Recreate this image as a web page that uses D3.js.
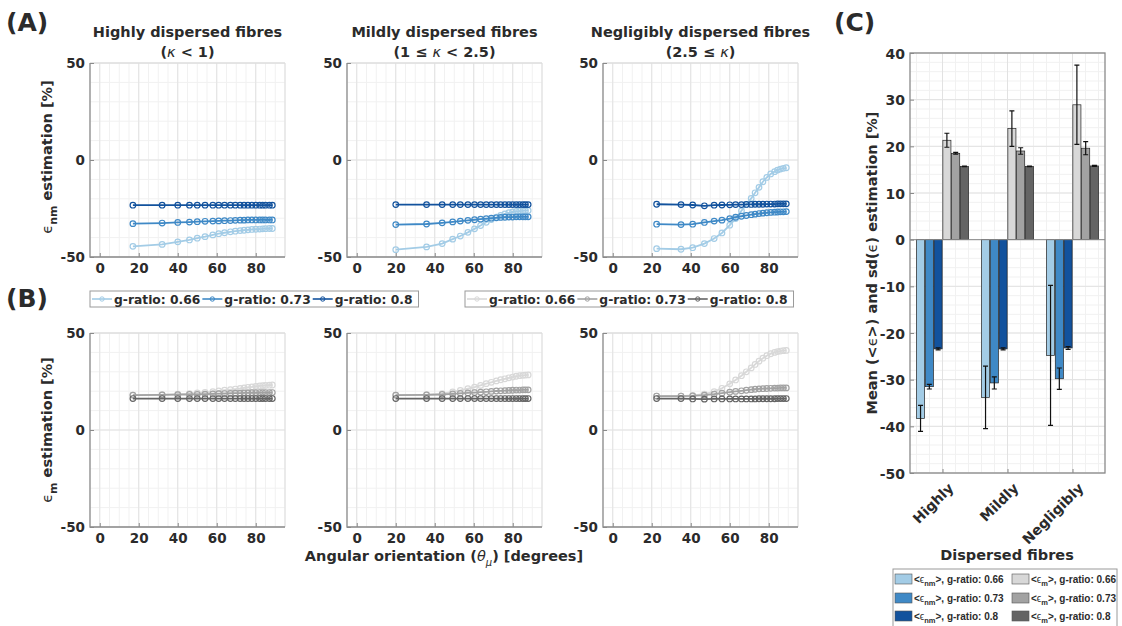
<!DOCTYPE html>
<html>
<head>
<meta charset="utf-8">
<script src="https://cdn.jsdelivr.net/npm/d3@7"></script>
<style>
  body { margin: 0; background: #fff; }
  svg text { font-family: "DejaVu Sans", sans-serif; font-weight: bold; fill: #2b2b2b; }
</style>
</head>
<body>
<svg id="fig" width="1122" height="626"></svg>
<script>
// ---------- data ----------
const gRatios = ['0.66', '0.73', '0.8'];
const groups = ['Highly', 'Mildly', 'Negligibly'];

// angular orientation of each simulated point, per dispersion class
const angHighly = [17, 32, 40, 46, 50, 54, 58, 61, 64, 67, 69.5, 72, 74, 76, 78, 80, 82, 83.5, 85, 87, 88.5];
const angMildly = [20, 35.8, 43.8, 49.2, 53.1, 57, 60.4, 63.5, 66.4, 69, 71.6, 73.8, 76, 78, 79.9, 81.8, 83.5, 85.2, 86.5, 87.9];
const angNegl = [22.5, 35, 41, 47, 52, 56, 60, 63, 66, 68.5, 71, 73, 75, 77, 79, 81, 83, 84.5, 86, 87.5, 89];

// (A) eps_nm estimation [%], one row per g-ratio (0.66, 0.73, 0.8)
const nmHighly = [
  [-44.5, -43.5, -42.2, -41.2, -40.3, -39.5, -38.6, -38, -37.5, -37, -36.7, -36.4, -36.2, -36, -35.8, -35.7, -35.6, -35.5, -35.4, -35.3, -35.3],
  [-32.8, -32.5, -32.2, -32, -31.8, -31.6, -31.5, -31.4, -31.3, -31.2, -31.1, -31, -31, -30.9, -30.9, -30.9, -30.9, -30.9, -30.9, -30.9, -30.9],
  [-23.3, -23.3, -23.3, -23.3, -23.3, -23.3, -23.3, -23.3, -23.3, -23.3, -23.3, -23.3, -23.3, -23.3, -23.3, -23.3, -23.3, -23.3, -23.3, -23.3, -23.3]
];
const nmMildly = [
  [-46.2, -44.8, -43.1, -40.8, -39.2, -37.3, -35.5, -33.8, -32.1, -30.7, -29.5, -28.6, -27.8, -27.2, -26.8, -26.5, -26.3, -26.2, -26.1, -26],
  [-33.3, -33, -32.4, -31.9, -31.5, -31.1, -30.8, -30.5, -30.2, -30, -29.8, -29.6, -29.5, -29.4, -29.4, -29.3, -29.3, -29.3, -29.3, -29.3],
  [-23, -23, -23, -23, -23, -23, -23, -23, -23, -23, -23, -23, -23, -23, -23, -23, -23, -23, -23, -23]
];
const nmNegl = [
  [-45.7, -46, -45.2, -43.1, -40.5, -37.6, -33.6, -30.2, -26.2, -22.9, -19.8, -16.9, -14.1, -11.2, -9, -7.2, -6, -5.2, -4.7, -4.3, -4],
  [-33.1, -33.3, -33.1, -32.2, -31.5, -31, -30.2, -29.5, -29, -28.6, -28.2, -27.9, -27.6, -27.4, -27.2, -27, -26.9, -26.8, -26.7, -26.7, -26.6],
  [-22.8, -23, -23.2, -23.6, -23.3, -23.2, -23.1, -23, -23, -22.9, -22.9, -22.8, -22.8, -22.8, -22.7, -22.7, -22.7, -22.6, -22.6, -22.6, -22.6]
];

// (B) eps_m estimation [%]
const mHighly = [
  [18, 18.2, 18.5, 18.8, 19.1, 19.4, 19.8, 20.1, 20.5, 20.8, 21.1, 21.4, 21.7, 22, 22.2, 22.5, 22.7, 22.8, 23, 23.1, 23.2],
  [18, 18.1, 18.2, 18.3, 18.4, 18.5, 18.6, 18.7, 18.8, 18.9, 19, 19, 19.1, 19.1, 19.2, 19.2, 19.3, 19.3, 19.3, 19.3, 19.3],
  [16.2, 16.2, 16.2, 16.2, 16.2, 16.2, 16.2, 16.2, 16.2, 16.2, 16.2, 16.2, 16.2, 16.2, 16.2, 16.2, 16.2, 16.2, 16.2, 16.2, 16.2]
];
const mMildly = [
  [18, 18.2, 18.8, 19.6, 20.4, 21.3, 22.1, 23, 23.9, 24.6, 25.3, 25.9, 26.4, 26.9, 27.3, 27.7, 28, 28.2, 28.3, 28.4],
  [18, 18.1, 18.3, 18.6, 18.9, 19.1, 19.3, 19.5, 19.7, 19.9, 20.1, 20.2, 20.3, 20.4, 20.5, 20.6, 20.6, 20.7, 20.7, 20.7],
  [16.2, 16.2, 16.2, 16.2, 16.2, 16.2, 16.2, 16.2, 16.2, 16.2, 16.2, 16.2, 16.2, 16.2, 16.2, 16.2, 16.2, 16.2, 16.2, 16.2]
];
const mNegl = [
  [17.5, 17.5, 17.8, 18.5, 19.8, 21.5, 23.8, 25.8, 28, 30, 32, 33.8, 35.5, 37, 38.3, 39.3, 40, 40.4, 40.7, 40.9, 41],
  [17.5, 17.5, 17.6, 18, 18.5, 19, 19.5, 19.9, 20.2, 20.5, 20.8, 21, 21.2, 21.3, 21.4, 21.5, 21.6, 21.6, 21.7, 21.7, 21.7],
  [16.2, 16.2, 16, 15.9, 16, 16, 16, 16, 16, 16, 16, 16, 16.1, 16.1, 16.1, 16.1, 16.1, 16.2, 16.2, 16.2, 16.2]
];

// (C) mean and sd per g-ratio (rows) and dispersion class (columns)
const nmMean = [[-38.3, -33.8, -24.8], [-31.5, -30.7, -29.8], [-23.4, -23.4, -23.2]];
const nmSd = [[2.8, 6.7, 15], [0.5, 1.3, 2.3], [0.2, 0.2, 0.3]];
const mMean = [[21.3, 23.8, 28.9], [18.5, 19, 19.6], [15.7, 15.7, 15.8]];
const mSd = [[1.5, 3.8, 8.5], [0.2, 0.7, 1.4], [0.05, 0.05, 0.1]];

const lineTicksX = [0, 20, 40, 60, 80];
const lineTicksY = [-50, 0, 50];
const barTicksY = [-50, -40, -30, -20, -10, 0, 10, 20, 30, 40];

// ---------- style ----------
const blues = ['#a3cce6', '#3f89c6', '#12529d'];
const greys = ['#d8d8d8', '#a2a2a2', '#646464'];
const axisCol = '#8a8a8a';
const gridMajor = '#e2e2e2';
const gridMinor = '#f1f1f1';
const plain = d => String(d);   // hyphen minus like the original

const svg = d3.select('#fig');
const W = 195;
const colsX = [90, 347, 603];
const rowA = {top: 63, bottom: 257};
const rowB = {top: 333, bottom: 527};

function styleAxis(g, size) {
  g.attr('font-family', null).attr('font-size', null);
  g.select('.domain').remove();
  g.selectAll('.tick line').attr('stroke', axisCol);
  g.selectAll('.tick text').attr('font-size', size).attr('fill', '#2b2b2b');
}

function linePanel(left, row, angles, series, colors) {
  const x = d3.scaleLinear().domain([-5, 95]).range([left, left + W]);
  const y = d3.scaleLinear().domain([-50, 50]).range([row.bottom, row.top]);
  const g = svg.append('g');

  g.selectAll('.vmin').data(d3.range(-5, 96, 5)).enter().append('line')
    .attr('x1', d => x(d)).attr('x2', d => x(d)).attr('y1', row.top).attr('y2', row.bottom)
    .attr('stroke', gridMinor);
  g.selectAll('.hmin').data(d3.range(-50, 51, 10)).enter().append('line')
    .attr('x1', left).attr('x2', left + W).attr('y1', d => y(d)).attr('y2', d => y(d))
    .attr('stroke', gridMinor);
  g.selectAll('.vmaj').data(lineTicksX).enter().append('line')
    .attr('x1', d => x(d)).attr('x2', d => x(d)).attr('y1', row.top).attr('y2', row.bottom)
    .attr('stroke', gridMajor);
  g.selectAll('.hmaj').data(lineTicksY).enter().append('line')
    .attr('x1', left).attr('x2', left + W).attr('y1', d => y(d)).attr('y2', d => y(d))
    .attr('stroke', gridMajor);
  // faint top/right frame
  g.append('path').attr('d', `M${left},${row.top}H${left + W}V${row.bottom}`)
    .attr('fill', 'none').attr('stroke', '#dcdcdc');

  const line = d3.line().x(d => x(d[0])).y(d => y(d[1]));
  series.forEach((vals, k) => {
    const pts = angles.map((a, i) => [a, vals[i]]);
    g.append('path').datum(pts).attr('d', line)
      .attr('fill', 'none').attr('stroke', colors[k]).attr('stroke-width', 1.8);
    g.selectAll('.pt' + k).data(pts).enter().append('circle')
      .attr('cx', d => x(d[0])).attr('cy', d => y(d[1])).attr('r', 2.8)
      .attr('fill', 'none').attr('stroke', colors[k]).attr('stroke-width', 1.2);
  });

  const gx = g.append('g').attr('transform', `translate(0,${row.bottom})`)
    .call(d3.axisBottom(x).tickValues(lineTicksX).tickFormat(plain).tickSize(-4).tickSizeOuter(0).tickPadding(6));
  styleAxis(gx, 13.5);
  const gy = g.append('g').attr('transform', `translate(${left},0)`)
    .call(d3.axisLeft(y).tickValues(lineTicksY).tickFormat(plain).tickSize(-4).tickSizeOuter(0).tickPadding(5));
  styleAxis(gy, 13.5);
  gy.selectAll('.tick text').attr('dy', '0.36em');
  g.append('path').attr('d', `M${left},${row.top}V${row.bottom}H${left + W}`)
    .attr('fill', 'none').attr('stroke', axisCol).attr('stroke-width', 1.3);
}

const anglesBy = [angHighly, angMildly, angNegl];
[nmHighly, nmMildly, nmNegl].forEach((s, i) => linePanel(colsX[i], rowA, anglesBy[i], s, blues));
[mHighly, mMildly, mNegl].forEach((s, i) => linePanel(colsX[i], rowB, anglesBy[i], s, greys));

// titles
const titleTop = [
  {t1: 'Highly dispersed fibres', pre: '(', k: 'κ', post: ' < 1)'},
  {t1: 'Mildly dispersed fibres', pre: '(1 ≤ ', k: 'κ', post: ' < 2.5)'},
  {t1: 'Negligibly dispersed fibres', pre: '(2.5 ≤ ', k: 'κ', post: ')'}
];
titleTop.forEach((t, i) => {
  const cx = colsX[i] + W / 2;
  svg.append('text').attr('x', cx).attr('y', 37).attr('text-anchor', 'middle')
    .attr('font-size', 14.5).attr('fill', '#111').text(t.t1);
  const l2 = svg.append('text').attr('x', cx).attr('y', 57).attr('text-anchor', 'middle')
    .attr('font-size', 14.5);
  l2.append('tspan').text(t.pre);
  l2.append('tspan').attr('font-style', 'italic').attr('font-weight', 'normal').text(t.k);
  l2.append('tspan').text(t.post);
});

// y labels for rows A and B
function yLabel(cy, sub) {
  const t = svg.append('text').attr('transform', `translate(52,${cy}) rotate(-90)`)
    .attr('text-anchor', 'middle').attr('font-size', 14.5);
  t.append('tspan').attr('font-weight', 'normal').text('ϵ');
  t.append('tspan').attr('dy', 5).attr('font-size', 11).text(sub);
  t.append('tspan').attr('dy', -5).text(' estimation [%]');
}
yLabel(157, 'nm');
yLabel(430, 'm');

// x label
const xl = svg.append('text').attr('x', 444).attr('y', 561).attr('text-anchor', 'middle')
  .attr('font-size', 14.5);
xl.append('tspan').text('Angular orientation (');
xl.append('tspan').attr('font-style', 'italic').attr('font-weight', 'normal').text('θ');
xl.append('tspan').attr('dy', 5).attr('font-size', 10).attr('font-style', 'italic').attr('font-weight', 'normal').text('μ');
xl.append('tspan').attr('dy', -5).text(') [degrees]');

// panel letters
[['(A)', 6, 31], ['(B)', 6, 307], ['(C)', 834, 31]].forEach(d => {
  svg.append('text').attr('x', d[1]).attr('y', d[2]).attr('font-size', 25)
    .attr('font-family', '"Open Sans", sans-serif').attr('fill', '#111').text(d[0]);
});

// line legends for A and B
function lineLegend(bx, colors) {
  const g = svg.append('g');
  const box = g.append('rect').attr('y', 291).attr('height', 16).attr('x', bx)
    .attr('fill', '#fff').attr('stroke', '#9a9a9a');
  let cx = bx + 2;
  gRatios.forEach((r, k) => {
    g.append('line').attr('x1', cx).attr('x2', cx + 20).attr('y1', 299).attr('y2', 299)
      .attr('stroke', colors[k]).attr('stroke-width', 1.6);
    g.append('circle').attr('cx', cx + 10).attr('cy', 299).attr('r', 2.2)
      .attr('fill', 'none').attr('stroke', colors[k]);
    const t = g.append('text').attr('x', cx + 22).attr('y', 303.5).attr('font-size', 12.3)
      .text('g-ratio: ' + r);
    cx += 22 + t.node().getComputedTextLength() + 2;
  });
  box.attr('width', cx - bx + 4);
}
lineLegend(90, blues);
lineLegend(465, greys);

// ---------- (C) grouped bars ----------
const cL = 910, cR = 1105, cTop = 53, cBot = 473;
const yC = d3.scaleLinear().domain([-50, 40]).range([cBot, cTop]);
const x0 = d3.scaleBand().domain(groups).range([cL, cR]).padding(0);
const x1 = d3.scaleBand().domain(d3.range(6)).range([x0.bandwidth() * 0.1, x0.bandwidth() * 0.9]).paddingInner(0.08);
const xC = d3.scaleLinear().domain([0.5, 3.5]).range([cL, cR]);

const gc = svg.append('g');
gc.selectAll('.cvmin').data(d3.range(0.6, 3.5, 0.2)).enter().append('line')
  .attr('x1', d => xC(d)).attr('x2', d => xC(d)).attr('y1', cTop).attr('y2', cBot).attr('stroke', gridMinor);
gc.selectAll('.chmin').data(d3.range(-50, 41, 2)).enter().append('line')
  .attr('x1', cL).attr('x2', cR).attr('y1', d => yC(d)).attr('y2', d => yC(d)).attr('stroke', gridMinor);
gc.selectAll('.chmaj').data(barTicksY).enter().append('line')
  .attr('x1', cL).attr('x2', cR).attr('y1', d => yC(d)).attr('y2', d => yC(d)).attr('stroke', gridMajor);
gc.selectAll('.cvmaj').data(groups).enter().append('line')
  .attr('x1', d => x0(d) + x0.bandwidth() / 2).attr('x2', d => x0(d) + x0.bandwidth() / 2)
  .attr('y1', cTop).attr('y2', cBot).attr('stroke', gridMajor);

const bars = [];
groups.forEach((grp, j) => {
  for (let k = 0; k < 3; k++) {
    bars.push({grp, slot: k, mean: nmMean[k][j], sd: nmSd[k][j], col: blues[k]});
    bars.push({grp, slot: k + 3, mean: mMean[k][j], sd: mSd[k][j], col: greys[k]});
  }
});

gc.selectAll('.bar').data(bars).enter().append('rect')
  .attr('x', d => x0(d.grp) + x1(d.slot))
  .attr('width', x1.bandwidth())
  .attr('y', d => yC(Math.max(0, d.mean)))
  .attr('height', d => Math.abs(yC(d.mean) - yC(0)))
  .attr('fill', d => d.col).attr('stroke', '#222').attr('stroke-width', 0.7);

const ex = d => x0(d.grp) + x1(d.slot) + x1.bandwidth() / 2;
gc.selectAll('.err').data(bars).enter().append('path')
  .attr('d', d => {
    const a = yC(d.mean - d.sd), b = yC(d.mean + d.sd), c = ex(d);
    return `M${c},${a}V${b}M${c - 2.5},${a}H${c + 2.5}M${c - 2.5},${b}H${c + 2.5}`;
  })
  .attr('fill', 'none').attr('stroke', '#111').attr('stroke-width', 1.2);

gc.append('line').attr('x1', cL).attr('x2', cR).attr('y1', yC(0)).attr('y2', yC(0))
  .attr('stroke', axisCol).attr('stroke-width', 1);

const gcy = gc.append('g').attr('transform', `translate(${cL},0)`)
  .call(d3.axisLeft(yC).tickValues(barTicksY).tickFormat(plain).tickSize(-4).tickSizeOuter(0).tickPadding(5));
styleAxis(gcy, 14);
gcy.selectAll('.tick text').attr('dy', '0.36em');
const gcx = gc.append('g').attr('transform', `translate(0,${cBot})`)
  .call(d3.axisBottom(xC).tickValues([1, 2, 3]).tickSize(-4).tickSizeOuter(0).tickFormat(''));
styleAxis(gcx, 14);
gc.selectAll('.clab').data(groups).enter().append('text')
  .attr('transform', d => `translate(${x0(d) + x0.bandwidth() / 2 + 5},${cBot + 9}) rotate(-45)`)
  .attr('text-anchor', 'end').attr('dy', '0.7em').attr('font-size', 14).text(d => d);
gc.append('rect').attr('x', cL).attr('y', cTop).attr('width', cR - cL).attr('height', cBot - cTop)
  .attr('fill', 'none').attr('stroke', axisCol).attr('stroke-width', 1.3);

const cyl = svg.append('text').attr('transform', `translate(877,263) rotate(-90)`)
  .attr('text-anchor', 'middle').attr('font-size', 14.5);
cyl.append('tspan').text('Mean (<');
cyl.append('tspan').attr('font-weight', 'normal').text('ϵ');
cyl.append('tspan').text('>) and sd(');
cyl.append('tspan').attr('font-weight', 'normal').text('ϵ');
cyl.append('tspan').text(') estimation [%]');

svg.append('text').attr('x', 1007).attr('y', 560).attr('text-anchor', 'middle')
  .attr('font-size', 14.5).text('Dispersed fibres');

// legend (C)
const lg = svg.append('g').attr('font-family', '"Liberation Sans", Arial, sans-serif');
lg.append('rect').attr('x', 893).attr('y', 569).attr('width', 224).attr('height', 60)
  .attr('fill', '#fff').attr('stroke', '#9a9a9a');
const legRows = [579, 598, 616];
[['nm', blues, 895], ['m', greys, 1012]].forEach(([sub, cols, lx]) => {
  gRatios.forEach((r, k) => {
    lg.append('rect').attr('x', lx).attr('y', legRows[k] - 5).attr('width', 17).attr('height', 10)
      .attr('fill', cols[k]).attr('stroke', '#555').attr('stroke-width', 0.6);
    const t = lg.append('text').attr('x', lx + 19).attr('y', legRows[k] + 3.5)
      .attr('font-size', 10).style('font-family', '"Liberation Sans", Arial, sans-serif');
    t.append('tspan').text('<');
    t.append('tspan').attr('font-weight', 'normal').text('ϵ');
    t.append('tspan').attr('dy', 3).attr('font-size', 7.5).text(sub);
    t.append('tspan').attr('dy', -3).text('>, g-ratio: ' + r);
  });
});
</script>
</body>
</html>
